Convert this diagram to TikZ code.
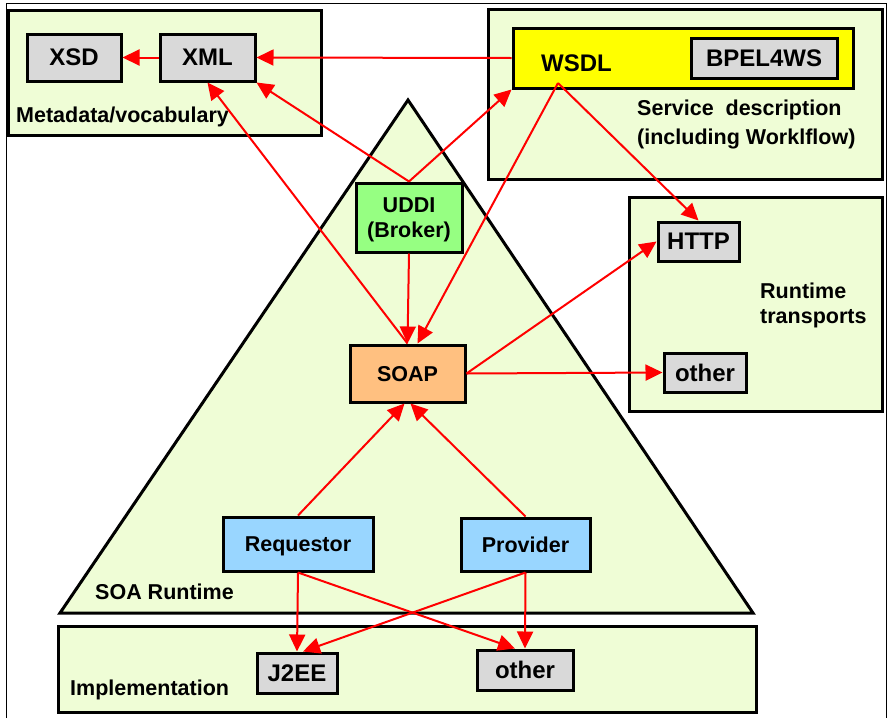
\documentclass[tikz,border=0pt]{standalone}
\usepackage{fontspec}
\setmainfont{Liberation Sans}
\usetikzlibrary{arrows.meta,calc}

\definecolor{panel}{RGB}{239,253,214}
\definecolor{greybox}{RGB}{217,217,217}
\definecolor{brokergreen}{RGB}{150,255,130}
\definecolor{soaporange}{RGB}{255,192,128}
\definecolor{roleblue}{RGB}{153,214,255}
\definecolor{wsdlyellow}{RGB}{255,255,0}

\begin{document}
\begin{tikzpicture}[x=1pt,y=-1pt,
  bigtext/.style={font=\fontsize{24}{28}\selectfont\bfseries},
  smalltext/.style={font=\fontsize{21.5}{25}\selectfont\bfseries},
  group/.style={draw=black, line width=3pt, fill=panel, inner sep=0pt},
  tagbox/.style={draw=black, line width=3pt, fill=greybox, inner sep=0pt, bigtext},
  rolebox/.style={draw=black, line width=3pt, inner sep=0pt, smalltext, text depth=0pt},
  label/.style={smalltext, inner sep=0pt, anchor=base west},
  link/.style={draw=red, line width=2pt, -{Triangle[length=17pt,width=16pt]}}
]
\useasboundingbox (0,0) rectangle (888,718);

% thin page frame
\draw[line width=1pt] (6,718) -- (6,3) -- (886,3) -- (886,718);

% group panels
\node[group, minimum width=313, minimum height=125] (meta) at (164.5,72.5) {};
\node[group, minimum width=394, minimum height=170] (sdesc) at (685,94) {};
\node[group, minimum width=253, minimum height=214] (rt) at (755.5,304) {};
\node[group, minimum width=698, minimum height=86] (impl) at (407,669) {};

% SOA runtime pyramid
\draw[line width=3pt, fill=panel, line join=miter] (408,100) -- (753,613) -- (60,613) -- cycle;

% metadata
\node[tagbox, minimum width=94, minimum height=47] (xsd) at (74,57.5) {XSD};
\node[tagbox, minimum width=95, minimum height=47] (xml) at (207.5,57.5) {XML};

% service description
\node[draw=black, line width=3pt, fill=wsdlyellow, inner sep=0pt,
      minimum width=340, minimum height=60] (wsdl) at (683,58) {};
\node[bigtext, inner sep=0pt, anchor=base] (wsdltext) at (576.5,71) {WSDL};
\node[tagbox, minimum width=146, minimum height=40] (bpel) at (764,58) {BPEL4WS};
\coordinate (wsdlsrc) at (558,83);

% runtime transports
\node[tagbox, minimum width=81, minimum height=39] (http) at (698.5,241.5) {HTTP};
\node[tagbox, minimum width=82, minimum height=39] (tother) at (705,372.5) {other};

% runtime roles
\node[rolebox, fill=brokergreen, align=center, minimum width=106, minimum height=69]
  (uddi) at (409,217.5) {UDDI\\(Broker)};
\node[rolebox, fill=soaporange, minimum width=115, minimum height=57] (soap) at (407.5,373.5) {SOAP};
\node[rolebox, fill=roleblue, minimum width=150, minimum height=54] (req) at (298,544) {Requestor};
\node[rolebox, fill=roleblue, minimum width=129, minimum height=53] (prov) at (525.5,544.5) {Provider};

% implementation
\node[tagbox, minimum width=80, minimum height=40] (j2ee) at (297,673) {J2EE};
\node[tagbox, minimum width=96, minimum height=40] (iother) at (525,670) {other};

% panel captions
\node[label] (metalabel) at (16,122) {Metadata/vocabulary};
\node[label] (sdesclabel) at (637,115) {Service\ \ description};
\node[label] (sdesclabelb) at (637,144) {(including Worklflow)};
\node[label] (rtlabel) at (760,298) {Runtime};
\node[label] (rtlabelb) at (760,323) {transports};
\node[label] (soalabel) at (95,599) {SOA Runtime};
\node[label] (impllabel) at (70,695) {Implementation};

% connectors
\draw[link] (xml.west) -- (xsd.east);
\draw[link] (wsdl.west) -- (xml.east);
\draw[link] (uddi.north) -- (xml.south east);
\draw[link] (uddi.north) -- (wsdl.south west);
\draw[link] (soap.north) -- (xml.south);
\draw[link] (uddi.south) -- (soap.north);
\draw[link] (wsdlsrc) -- ([xshift=10pt]soap.north);
\draw[link] (wsdlsrc) -- (http.north);
\draw[link] (soap.east) -- (http.west);
\draw[link] (soap.east) -- (tother.west);
\draw[link] (req.north) -- ([xshift=-3pt]soap.south);
\draw[link] (prov.north) -- ([xshift=3pt]soap.south);
\draw[link] (req.south) -- (j2ee.north);
\draw[link] (prov.south) -- ([xshift=6pt]j2ee.north);
\draw[link] (req.south) -- ([xshift=-10pt]iother.north);
\draw[link] (prov.south) -- (iother.north);
\end{tikzpicture}
\end{document}
